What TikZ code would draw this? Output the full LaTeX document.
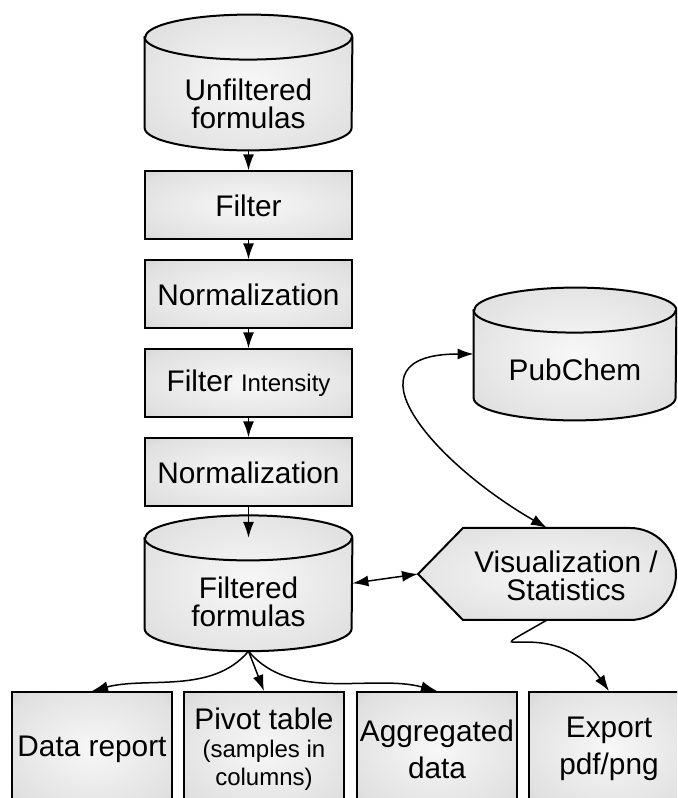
\documentclass[tikz,border=0pt]{standalone}
\usepackage{fontspec}
\setmainfont{Liberation Sans}
\usetikzlibrary{arrows.meta, positioning, calc}

\pgfdeclareradialshading{glow}{\pgfpoint{0bp}{0bp}}{%
  color(0bp)=(black!3); color(30bp)=(black!12); color(50bp)=(black!26)}
\newcommand{\smtext}[1]{{\fontsize{12}{13}\selectfont #1}}
% cylinder outline round a named node: #1 node, #2 half width
\newcommand{\storeshape}[2]{%
  \path[draw=black, line width=1pt, shading=glow]
    ([yshift=-11.25pt]#1.north west) -- ([yshift=11.25pt]#1.south west)
    arc[start angle=180, end angle=360, x radius=#2, y radius=11.25pt]
    -- ([yshift=-11.25pt]#1.north east)
    arc[start angle=0, end angle=180, x radius=#2, y radius=11.25pt] -- cycle;
  \draw[line width=1pt] ([yshift=-11.25pt]#1.north west)
    arc[start angle=180, end angle=360, x radius=#2, y radius=11.25pt];}

\begin{document}
\begin{tikzpicture}[x=0.5pt, y=0.5pt,
    every node/.style={font=\fontsize{14.9}{14}\selectfont, align=center},
    stepbox/.style={draw=black, line width=1pt, shading=glow,
        minimum width=103.5pt, minimum height=34pt, inner sep=0pt},
    outbox/.style={stepbox, minimum width=80pt, minimum height=57pt},
    store/.style={minimum width=103.5pt, minimum height=67.5pt, inner sep=0pt},
    flow/.style={-{Latex[length=8pt,width=5.5pt]}, line width=0.75pt},
    dflow/.style={{Latex[length=8pt,width=5.5pt]}-{Latex[length=8pt,width=5.5pt]}, line width=0.75pt}]
    \clip (0,0) rectangle (677,798);

    % main column
    \node[store] (unf) at (248.5,715.5) {};
    \storeshape{unf}{51.75pt}
    \node (unf-lbl) at ([yshift=-10.5pt]unf.center) {Unfiltered\\formulas};
    \node[stepbox, below=10pt of unf] (filter) {Filter};
    \node[stepbox, below=9.5pt of filter] (norm1) {Normalization};
    \node[stepbox, below=9.5pt of norm1] (filtint) {Filter \smtext{Intensity}};
    \node[stepbox, below=9.5pt of filtint] (norm2) {Normalization};
    \node[store, below=4pt of norm2] (filt) {};
    \storeshape{filt}{51.75pt}
    \node (filt-lbl) at ([yshift=-9.5pt]filt.center) {Filtered\\formulas};
    \coordinate (filt-top) at ([yshift=-11.25pt]filt.north);

    % right side
    \node[store, minimum width=101pt, minimum height=66pt] (pub) at (575,444) {};
    \storeshape{pub}{50.5pt}
    \node (pub-lbl) at ([yshift=-7.75pt]pub.center) {PubChem};
    \path[draw=black, line width=1pt, shading=glow]
        (418,224) -- (463,270) -- (630,270) arc[start angle=90, end angle=-90, radius=46]
        -- (463,178) -- cycle;
    \node (vis) at (566,222) {Visualization /\\Statistics};
    \coordinate (vis-tip) at (418,224);
    \coordinate (vis-top) at (547,270);
    \coordinate (vis-bot) at (547,178);

    % outputs
    \node[outbox] (data) at (92,49) {Data report};
    \node[outbox, right=5pt of data] (pivot) {Pivot table\\\smtext{(samples in}\\\smtext{columns)}};
    \node[outbox, right=5.5pt of pivot] (agg) {Aggregated\\[4.5pt]data};
    \node[outbox, right=5pt of agg] (export) {Export\\[4.5pt]pdf/png};

    \draw[flow] (unf) -- (filter);
    \draw[flow] (filter) -- (norm1);
    \draw[flow] (norm1) -- (filtint);
    \draw[flow] (filtint) -- (norm2);
    \draw[flow] (norm2) -- (filt-top);
    \draw[dflow] (filt.east) -- (vis-tip);
    \draw[dflow] (pub.west) to[out=180, in=150, looseness=1.8] (vis-top);
    \draw[flow] (vis-bot) to[out=-150, in=125, looseness=2.7] (export.north);
    \draw[flow] (filt.south) to[out=-130, in=15, looseness=0.9] (data.north);
    \draw[flow] (filt.south) -- (pivot.north);
    \draw[flow] (filt.south) to[out=-50, in=165, looseness=0.9] (agg.north);
\end{tikzpicture}
\end{document}
